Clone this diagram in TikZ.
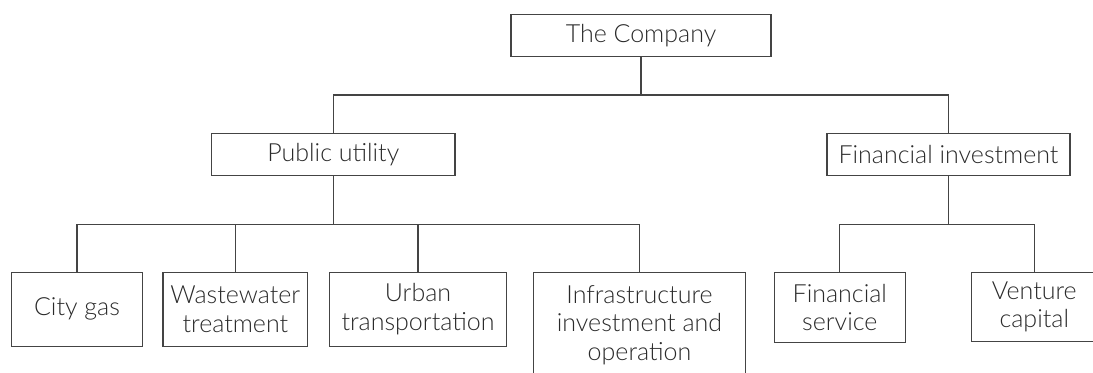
\documentclass[tikz,border=0pt]{standalone}
\usepackage{fontspec}
\IfFontExistsTF{Lato Light}{\setmainfont{Lato Light}}{\setmainfont{Lato}}
\definecolor{linegray}{HTML}{444444}
\definecolor{textgray}{HTML}{2a2a2a}
\tikzset{
  box/.style={draw=linegray, line width=0.6pt, text=textgray, inner sep=0pt,
    align=center, font=\fontsize{12.5}{14.3}\selectfont},
  link/.style={draw=linegray, line width=0.6pt}
}
\begin{document}
\begin{tikzpicture}[x=0.5pt, y=-0.5pt]
      \useasboundingbox (0,0) rectangle (1093,372);
      \draw
        (641,35.5) node[box, minimum width=130pt, minimum height=21.2pt] (comp){The Company}
        (333.3,154.7) node[box, minimum width=121.7pt, minimum height=21pt] (pu){Public utility}
        (948.5,154.7) node[box, minimum width=121.5pt, minimum height=21pt] (fi){Financial investment}
        (77,309.2) node[box, minimum width=65.3pt, minimum height=36.9pt] (gas){City gas}
        (235.3,309.2) node[box, minimum width=72.4pt, minimum height=36.9pt] (ww){Wastewater\\treatment}
        (418,309.2) node[box, minimum width=88.3pt, minimum height=36.9pt] (urb){Urban\\transportation}
        (639.5,325.2) node[box, minimum width=106.2pt, minimum height=53pt] (inf){Infrastructure\\investment and\\operation}
        (839.8,307.5) node[box, minimum width=65.5pt, minimum height=35.2pt] (fs){Financial\\service}
        (1034.3,306.8) node[box, minimum width=63pt, minimum height=34.5pt] (vc){Venture\\capital};
      \coordinate (bus1) at (0,95);
      \coordinate (bus2) at (0,224.7);
      \begin{scope}[link]
        \draw (comp.south) -- (comp.south |- bus1);
        \draw (pu.north) |- (fi.north |- bus1) -- (fi.north);
        \draw (pu.south) -- (pu.south |- bus2);
        \draw (gas.north) |- (inf.north |- bus2) -- (inf.north);
        \foreach \n in {ww,urb}
          \draw (\n.north) -- (\n.north |- bus2);
        \draw (fi.south) -- (fi.south |- bus2);
        \draw (fs.north) |- (vc.north |- bus2) -- (vc.north);
      \end{scope}
    \end{tikzpicture}
\end{document}
